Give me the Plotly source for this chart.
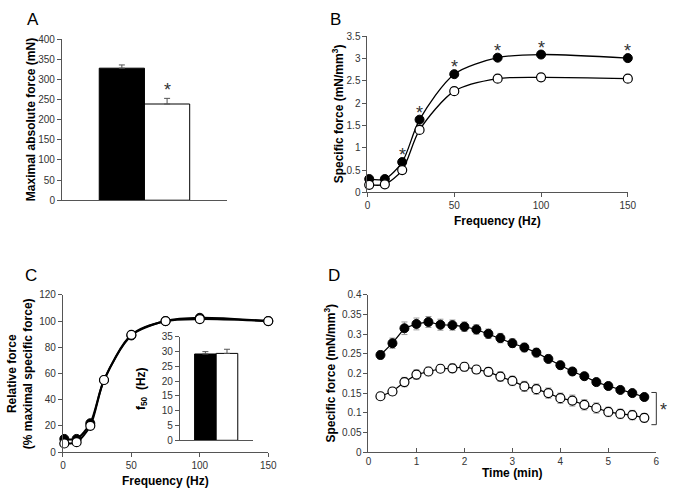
import plotly.graph_objects as go

W, H = 683, 499
def px(x): return x / W
def py(y): return 1 - y / H

# ---------------- data ----------------
groups = ["Control", "Mutant"]
# Panel A
a_force = [328, 239]
a_err = [8, 14]
# Panel B
freq = [1, 10, 20, 30, 50, 75, 100, 150]
b_black = [0.30, 0.30, 0.68, 1.63, 2.65, 3.02, 3.09, 3.01]
b_white = [0.17, 0.18, 0.50, 1.40, 2.27, 2.55, 2.58, 2.55]
b_sig = [False, False, True, True, True, True, True, True]
# Panel C
c_black = [10, 10, 22, 55, 89, 100, 102.5, 100]
c_white = [6.5, 7.5, 20, 55, 89.5, 100, 101.5, 100]
f50 = [29.2, 29.4]
f50_err = [0.8, 1.4]
# Panel D
time = [0.25, 0.5, 0.75, 1, 1.25, 1.5, 1.75, 2, 2.25, 2.5, 2.75, 3, 3.25, 3.5,
        3.75, 4, 4.25, 4.5, 4.75, 5, 5.25, 5.5, 5.75]
d_black = [0.247, 0.277, 0.315, 0.326, 0.331, 0.324, 0.323, 0.319, 0.312, 0.301,
           0.290, 0.277, 0.266, 0.253, 0.237, 0.221, 0.205, 0.193, 0.178, 0.168,
           0.158, 0.150, 0.140]
d_black_err = [0.010, 0.013, 0.016, 0.015, 0.014, 0.014, 0.013, 0.012, 0.012, 0.012,
               0.012, 0.011, 0.011, 0.011, 0.010, 0.010, 0.009, 0.009, 0.008, 0.008,
               0.007, 0.007, 0.006]
d_white = [0.142, 0.154, 0.178, 0.197, 0.205, 0.212, 0.213, 0.217, 0.210, 0.204,
           0.192, 0.181, 0.167, 0.160, 0.150, 0.137, 0.131, 0.120, 0.112, 0.102,
           0.097, 0.094, 0.087]
d_white_err = [0.008, 0.010, 0.012, 0.012, 0.011, 0.010, 0.011, 0.011, 0.010, 0.011,
               0.012, 0.012, 0.013, 0.013, 0.013, 0.013, 0.014, 0.013, 0.013, 0.012,
               0.012, 0.012, 0.011]

FONT = "Liberation Sans, Arial, sans-serif"
AX = "#555555"
TICKF = dict(family=FONT, size=10, color="#333333")
ERRC = "#999999"

fig = go.Figure()

# ---- Panel A bars ----
wA = 0.274
for i, col in enumerate(["black", "white"]):
    fig.add_trace(go.Bar(
        x=["g"], y=[a_force[i]], width=wA, offset=-wA if i == 0 else 0,
        marker=dict(color=col, line=dict(color="black", width=1)),
        error_y=dict(type="data", array=[a_err[i]], arrayminus=[0], color=AX,
                     thickness=1, width=3),
        xaxis="x", yaxis="y", showlegend=False))

# ---- Panel B lines ----
fig.add_trace(go.Scatter(x=freq, y=b_black, mode="lines+markers",
    line=dict(color="black", width=1.3, shape="spline", smoothing=0.8),
    marker=dict(size=9, color="black", line=dict(color="black", width=1)),
    xaxis="x2", yaxis="y2", showlegend=False, cliponaxis=False))
fig.add_trace(go.Scatter(x=freq, y=b_white, mode="lines+markers",
    line=dict(color="black", width=1.3, shape="spline", smoothing=0.8),
    marker=dict(size=9, color="white", line=dict(color="black", width=1.2)),
    xaxis="x2", yaxis="y2", showlegend=False, cliponaxis=False))

# ---- Panel C lines ----
fig.add_trace(go.Scatter(x=freq, y=c_black, mode="lines+markers",
    line=dict(color="black", width=2, shape="spline", smoothing=0.8),
    marker=dict(size=9, color="black", line=dict(color="black", width=1)),
    xaxis="x3", yaxis="y3", showlegend=False, cliponaxis=False))
fig.add_trace(go.Scatter(x=freq, y=c_white, mode="lines+markers",
    line=dict(color="black", width=2, shape="spline", smoothing=0.8),
    marker=dict(size=9, color="white", line=dict(color="black", width=1.2)),
    xaxis="x3", yaxis="y3", showlegend=False, cliponaxis=False))

# ---- Panel C inset bars ----
wI = 0.297
for i, col in enumerate(["black", "white"]):
    fig.add_trace(go.Bar(
        x=["g"], y=[f50[i]], width=wI, offset=-wI if i == 0 else 0,
        marker=dict(color=col, line=dict(color="black", width=1)),
        error_y=dict(type="data", array=[f50_err[i]], arrayminus=[0], color=AX,
                     thickness=1, width=3),
        xaxis="x5", yaxis="y5", showlegend=False))

# ---- Panel D ----
fig.add_trace(go.Scatter(x=time, y=d_black, mode="lines+markers",
    line=dict(color="black", width=1.2),
    marker=dict(size=9, color="black", line=dict(color="black", width=1)),
    error_y=dict(type="data", array=d_black_err, color=ERRC, thickness=1, width=3),
    xaxis="x4", yaxis="y4", showlegend=False, cliponaxis=False))
fig.add_trace(go.Scatter(x=time, y=d_white, mode="lines+markers",
    line=dict(color="black", width=1.2),
    marker=dict(size=9, color="white", line=dict(color="black", width=1.2)),
    error_y=dict(type="data", array=d_white_err, color=ERRC, thickness=1, width=3),
    xaxis="x4", yaxis="y4", showlegend=False, cliponaxis=False))

def yax(domain, rng, dtick, anchor, **kw):
    d = dict(domain=domain, range=rng, dtick=dtick, anchor=anchor, showline=True,
             linecolor=AX, linewidth=1, ticks="outside", ticklen=4, tickcolor=AX,
             showgrid=False, zeroline=False, tickfont=TICKF)
    d.update(kw)
    return d

def xax(domain, rng, anchor, **kw):
    d = dict(domain=domain, range=rng, anchor=anchor, showline=True,
             linecolor=AX, linewidth=1, ticks="outside", ticklen=4, tickcolor=AX,
             showgrid=False, zeroline=False, tickfont=TICKF)
    d.update(kw)
    return d

annotations = []
def ann(text, x, y, size=12, bold=True, angle=0, **kw):
    t = "<b>%s</b>" % text if bold else text
    annotations.append(dict(text=t, x=x, y=y, xref="paper", yref="paper",
        showarrow=False, textangle=angle, font=dict(family=FONT, size=size, color="black"),
        xanchor="center", yanchor="middle", **kw))

# axis titles
ann("Maximal absolute force (mN)", px(28), py(116.5), angle=-90)
ann("Specific force (mN/mm<sup>3</sup>)", px(341), py(111), angle=-90)
ann("Frequency (Hz)", px(503.5), py(220))
ann("Relative force<br>(% maximal specific force)", px(18), py(376.5), angle=-90)
ann("Frequency (Hz)", px(165.5), py(487))
ann("f<sub>50</sub>  (Hz)", px(141), py(392), angle=-90)
ann("Specific force (mN/mm<sup>3</sup>)", px(333), py(376.5), angle=-90)
ann("Time (min)", px(518.5), py(479))

# panel labels
for lab, x, y in [("A", 31, 14), ("B", 338, 14), ("C", 29, 276), ("D", 337, 276)]:
    ann(lab, px(x), py(y), size=17, bold=False)

# significance asterisks
ASTF = dict(family=FONT, size=18, color="#333333")
annotations.append(dict(text="*", x="g", y=a_force[1] + a_err[1], xref="x", yref="y",
    xshift=23, yshift=8, showarrow=False, font=ASTF, yanchor="middle"))
for f, v, s in zip(freq, b_black, b_sig):
    if s:
        annotations.append(dict(text="*", x=f, y=v, xref="x2", yref="y2",
            yshift=7, showarrow=False, font=ASTF, yanchor="middle"))
annotations.append(dict(text="*", x=px(672), y=py(414), xref="paper", yref="paper",
    showarrow=False, font=ASTF, yanchor="middle", xanchor="center"))

shapes = [
    dict(type="line", xref="paper", yref="paper", x0=px(665), x1=px(665),
         y0=py(396), y1=py(429), line=dict(color="#333", width=1)),
    dict(type="line", xref="paper", yref="paper", x0=px(660), x1=px(665),
         y0=py(396), y1=py(396), line=dict(color="#333", width=1)),
    dict(type="line", xref="paper", yref="paper", x0=px(660), x1=px(665),
         y0=py(429), y1=py(429), line=dict(color="#333", width=1)),
]

fig.update_layout(
    width=W, height=H, autosize=False,
    margin=dict(l=0, r=0, t=0, b=0),
    paper_bgcolor="white", plot_bgcolor="rgba(0,0,0,0)",
    barmode="overlay", showlegend=False,
    xaxis=xax([px(60), px(228)], [-0.5, 0.5], "y", ticks="", showticklabels=False,
              type="category"),
    yaxis=yax([py(199), py(34)], [0, 400], 50, "x"),
    xaxis2=xax([px(371), px(636)], [0, 150], "y2", tickvals=[0, 50, 100, 150]),
    yaxis2=yax([py(191), py(31)], [0, 3.5], 0.5, "x2"),
    xaxis3=xax([px(61), px(270)], [0, 150], "y3", tickvals=[0, 50, 100, 150]),
    yaxis3=yax([py(457), py(296)], [0, 120], 20, "x3"),
    xaxis4=xax([px(372), px(665)], [0, 6], "y4", dtick=1, ticks="inside"),
    yaxis4=yax([py(457), py(296)], [0, 0.4], 0.05, "x4"),
    xaxis5=xax([px(180), px(254)], [-0.5, 0.5], "y5", ticks="", showticklabels=False,
               type="category"),
    yaxis5=yax([py(445), py(339)], [0, 35], 5, "x5"),
    annotations=annotations, shapes=shapes,
)

fig.write_html("out.html", config={"displayModeBar": False},
               post_script="document.body.style.margin='0px';")
